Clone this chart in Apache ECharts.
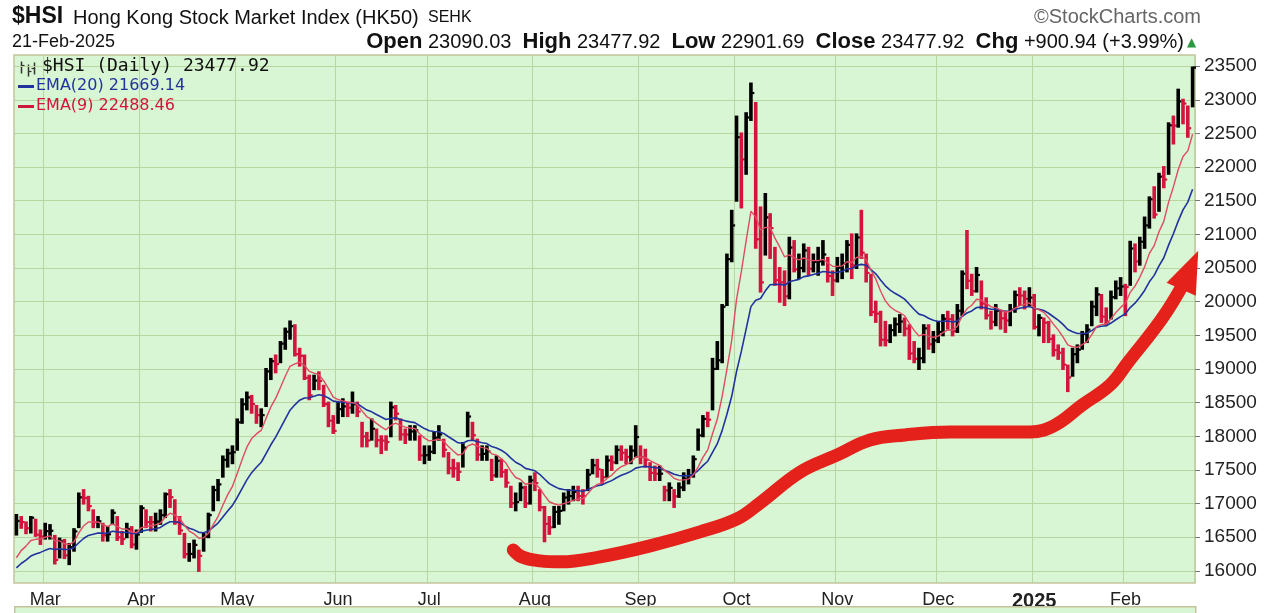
<!DOCTYPE html>
<html><head><meta charset="utf-8">
<script src="https://cdn.jsdelivr.net/npm/echarts@6/dist/echarts.min.js"></script>
<style>html,body{margin:0;padding:0;background:#fff}#c{width:1282px;height:613px}</style>
</head><body><div id="c"></div>
<script>
// ---------- DATA ----------
const startDate = '2024-02-22';
const endDate = '2025-02-21';
const holidays = ['2024-03-29','2024-04-01','2024-04-04','2024-05-01','2024-05-15','2024-06-10','2024-07-01',
  '2024-09-18','2024-10-01','2024-10-11','2024-12-25','2024-12-26','2025-01-01','2025-01-29','2025-01-30','2025-01-31'];
const monthNames = ['Jan','Feb','Mar','Apr','May','Jun','Jul','Aug','Sep','Oct','Nov','Dec'];
const yTicks = [16000,16500,17000,17500,18000,18500,19000,19500,20000,20500,21000,21500,22000,22500,23000,23500];

const closes = [
  16742,16726,16634,16790,16537,16511,
  16590,16596,16163,16438,16230,16353,16587,17093,17082,16962,16721,16737,16529,16544,16863,16499,16473,16618,16392,16541,
  16931,16725,16724,16733,16828,17139,17095,16722,16601,16249,16252,16386,16224,16512,16829,17201,17285,17651,17747,17763,
  18207,18476,18578,18479,18314,18314,18964,19115,19073,19376,19553,19636,19221,19195,18868,18609,18828,18822,18478,18231,18080,
  18403,18444,18425,18476,18367,17997,17937,18112,17942,17936,17915,18430,18335,18028,18027,18072,18089,17716,17719,
  17769,17979,18028,17800,17525,17523,17472,17832,18293,18016,17727,17739,17778,17418,17636,17470,17311,17005,17022,17238,17003,17345,
  17304,16945,16698,16647,16877,16891,17090,17112,17175,17113,17110,17430,17569,17511,17391,17641,17612,17798,17755,17692,17787,17989,
  17691,17651,17457,17444,17444,17196,17234,17108,17240,17369,17422,17660,18013,18258,18247,19000,19129,19925,20632,21133,
  22444,22114,22737,23100,20927,20287,21252,21093,20319,20287,20080,20804,20479,20499,20761,20489,20590,20600,20701,20381,20317,
  20506,20568,20845,20538,20954,20728,20427,19846,19823,19435,19426,19577,19664,19705,19601,19230,19151,19159,19603,19367,19424,
  19550,19746,19742,19560,19865,20415,20311,20155,20397,19971,19796,19700,19865,19753,19720,19883,20098,20090,20042,20060,
  19623,19760,19688,19447,19280,19241,19064,18874,19219,19286,19522,19584,19926,20107,19778,19701,20066,20198,20225,
  20217,20790,20597,20891,21133,21522,21295,21858,21815,22620,22616,22976,22944,22577,23478
];
const highs = [
  16830,16800,16720,16800,16760,16600,
  16700,16680,16520,16480,16460,16400,16620,17150,17200,17100,16900,16800,16700,16650,16900,16800,16580,16700,16650,16600,
  16960,16900,16800,16850,16900,17150,17200,17050,16800,16550,16400,16450,16300,16550,16850,17250,17350,17700,17800,17850,
  18250,18550,18650,18600,18450,18400,19000,19150,19200,19400,19600,19706,19650,19300,19200,18900,18900,18950,18750,18500,18300,
  18500,18550,18500,18650,18500,18200,18050,18250,18100,18000,18000,18500,18450,18250,18100,18150,18150,18000,17850,
  17850,18050,18150,17950,17750,17650,17600,17900,18350,18200,17950,17850,17850,17650,17700,17650,17500,17250,17150,17300,17250,17400,
  17450,17200,16950,16800,16950,16950,17150,17200,17250,17250,17200,17500,17650,17650,17500,17700,17700,17850,17850,17800,17850,18150,
  17850,17800,17600,17550,17550,17250,17300,17200,17300,17450,17500,17700,18100,18300,18350,19150,19400,19950,20700,21350,
  22750,22500,22800,23241,22950,21400,21600,21300,20800,20500,20450,20950,20900,20700,20850,20800,20700,20800,20900,20650,20450,
  20650,20700,20900,21000,21000,21350,20700,20400,20000,19850,19700,19650,19750,19800,19750,19650,19400,19300,19650,19650,19550,
  19700,19800,19850,19800,19950,20450,21050,20400,20500,20300,20050,19850,19950,19850,19850,19950,20150,20200,20150,20200,
  20100,19800,19750,19700,19500,19350,19300,19050,19300,19350,19550,19650,20000,20200,20100,19900,20150,20300,20350,
  20250,20890,20850,20950,21250,21550,21700,21900,22000,22650,22750,23150,23000,22900,23478
];
const lows = [
  16540,16640,16560,16570,16520,16400,
  16480,16480,16110,16200,16190,16100,16300,16650,17000,16900,16650,16650,16450,16450,16700,16460,16400,16500,16350,16330,
  16580,16650,16600,16600,16700,16800,16950,16700,16550,16200,16150,16200,16000,16300,16500,16900,17050,17400,17550,17600,
  17800,18200,18400,18350,18200,18150,18450,18850,18950,19100,19300,19450,19200,19050,18850,18550,18700,18700,18450,18150,18050,
  18200,18300,18300,18350,18300,17850,17850,17950,17850,17750,17800,18000,18250,17950,17900,17950,17950,17650,17600,
  17650,17750,17950,17700,17450,17400,17350,17550,18000,17950,17650,17650,17650,17350,17400,17400,17250,16950,16900,17050,16950,17000,
  17200,16900,16440,16550,16650,16700,16900,17000,17050,17050,17000,17200,17450,17400,17300,17400,17500,17600,17650,17600,17600,17700,
  17600,17550,17350,17350,17350,17050,17050,16950,17100,17200,17300,17400,17800,18000,18150,18400,19000,19100,19950,20600,
  21500,21400,21900,22700,20800,20150,20700,20650,20250,20000,19950,20050,20450,20350,20450,20400,20450,20400,20550,20300,20100,
  20300,20350,20450,20350,20500,20650,20300,19800,19700,19350,19350,19400,19500,19550,19500,19150,19100,19000,19100,19300,19250,
  19400,19500,19600,19500,19550,19800,20200,20100,20150,19900,19750,19600,19650,19600,19550,19650,19850,19950,19900,19950,
  19600,19500,19400,19400,19200,19150,19000,18671,18900,19100,19300,19400,19650,19800,19700,19650,19750,20050,20100,
  19800,20250,20450,20550,20800,21100,21250,21350,21700,21900,22350,22600,22650,22450,22902
];
// EMA values at the first visible bar
const ema20Seed = 16045;
const ema9Seed = 16195;
// hand-drawn red arrow: [bar index, price]
const arrowPath = [[103.5,16312],[105.3,16208],[109.1,16149],[113.3,16134],[121.6,16208],[132,16371],[142.4,16579],
  [150.1,16772],[154.9,17010],[163.3,17470],[171,17723],[177.8,17946],[185.1,18020],[194.5,18064],[211.2,18064],
  [216.4,18168],[222,18465],[227.8,18762],[231.6,19104],[238.7,19758],[243.2,20280]];
const arrowHead = [[244.4,20470]];

// ---------- BUILD ----------
const dates = [];
{
  let t = Date.parse(startDate + 'T00:00:00Z');
  const end = Date.parse(endDate + 'T00:00:00Z');
  while (t <= end) {
    const d = new Date(t);
    const wd = d.getUTCDay();
    const s = d.toISOString().slice(0, 10);
    if (wd !== 0 && wd !== 6 && holidays.indexOf(s) < 0) dates.push(s);
    t += 86400000;
  }
}
function ema(seed, n) {
  const k = 2 / (n + 1), out = [seed];
  for (let i = 1; i < closes.length; i++) out.push(out[i - 1] + k * (closes[i] - out[i - 1]));
  return out.map(v => Math.round(v * 100) / 100);
}
const ema20 = ema(ema20Seed, 20);
const ema9 = ema(ema9Seed, 9);
const isMonthStart = i => i > 0 && dates[i].slice(5, 7) !== dates[i - 1].slice(5, 7);
const bars = closes.map((c, i) => [i, highs[i], lows[i], c]);

const GRID = '#b9d6a0';
const RED = '#d3143f';
const ARROW = '#e5211b';
const chart = echarts.init(document.getElementById('c'), null, {renderer: 'canvas'});
chart.setOption({
  animation: false,
  backgroundColor: '#ffffff',
  grid: {left: 14, right: 87, top: 55, bottom: 30, show: true, backgroundColor: '#d8f6d3', borderColor: '#c4c49c', borderWidth: 1.5},
  xAxis: [{
    type: 'category', data: dates, boundaryGap: true,
    axisLine: {show: false}, axisTick: {show: false},
    axisLabel: {
      interval: (i) => isMonthStart(i), margin: 8, color: '#222', fontSize: 18, fontFamily: 'Liberation Sans',
      formatter: (v) => { const m = +v.slice(5, 7); return m === 1 ? '{y|' + v.slice(0, 4) + '}' : monthNames[m - 1]; },
      rich: {y: {fontWeight: 'bold', fontSize: 20, fontFamily: 'Liberation Sans', color: '#222'}}
    },
    splitLine: {show: true, interval: (i) => isMonthStart(i), lineStyle: {color: GRID, width: 1}}
  }, {
    type: 'value', min: -0.5, max: closes.length - 0.5, show: false
  }],
  yAxis: {
    type: 'value', position: 'right', min: 15820, max: 23665, scale: true,
    axisLine: {show: false, onZero: false},
    axisTick: {show: true, length: 5, customValues: yTicks, lineStyle: {color: '#777'}},
    axisLabel: {customValues: yTicks, margin: 9, color: '#222', fontSize: 19, fontFamily: 'Liberation Sans',
      formatter: (v) => String(v)},
    splitLine: {show: true, lineStyle: {color: GRID, width: 1}}
  },
  series: [{
    type: 'custom', data: bars, encode: {x: 0, y: [1, 2, 3]}, z: 2,
    renderItem: function (params, api) {
      const i = api.value(0);
      const h = api.coord([i, api.value(1)]);
      const l = api.coord([i, api.value(2)]);
      const c = api.coord([i, api.value(3)]);
      const col = (i === 0 || closes[i] >= closes[i - 1]) ? '#000000' : RED;
      return {type: 'group', children: [
        {type: 'line', shape: {x1: h[0], y1: h[1] - 1, x2: l[0], y2: l[1] + 1}, style: {stroke: col, lineWidth: 3.6}},
        {type: 'line', shape: {x1: c[0], y1: c[1], x2: c[0] + 3.4, y2: c[1]}, style: {stroke: col, lineWidth: 2.2}}
      ]};
    }
  }, {
    type: 'line', data: ema20, showSymbol: false, symbol: 'none', z: 3,
    lineStyle: {color: '#22329e', width: 1.6}
  }, {
    type: 'line', data: ema9, showSymbol: false, symbol: 'none', z: 3,
    lineStyle: {color: '#e04a62', width: 1.4}
  }, {
    type: 'line', xAxisIndex: 1, data: arrowPath, smooth: 0.4, showSymbol: false, symbol: 'none', z: 5,
    lineStyle: {color: ARROW, width: 13, cap: 'round', join: 'round'}
  }, {
    type: 'scatter', xAxisIndex: 1, data: arrowHead, symbol: 'triangle', symbolSize: [32, 42], symbolRotate: -24,
    itemStyle: {color: ARROW, opacity: 1}, z: 5, clip: false
  }],
  graphic: [
    {type: 'text', left: 12, top: 5, style: {text: '$HSI', font: 'bold 23px "Liberation Sans"', fill: '#111'}},
    {type: 'text', left: 73, top: 8, style: {text: 'Hong Kong Stock Market Index (HK50)', font: '20px "Liberation Sans"', fill: '#111'}},
    {type: 'text', left: 428, top: 10, style: {text: 'SEHK', font: '16px "Liberation Sans"', fill: '#111'}},
    {type: 'text', left: 1034, top: 7, style: {text: '\u00A9StockCharts.com', font: '20px "Liberation Sans"', fill: '#666'}},
    {type: 'text', left: 12, top: 33, style: {text: '21-Feb-2025', font: '18px "Liberation Sans"', fill: '#111'}},
    {type: 'text', right: 98, top: 31, style: {
      text: '{b|Open} {n|23090.03}  {b|High} {n|23477.92}  {b|Low} {n|22901.69}  {b|Close} {n|23477.92}  {b|Chg} {n|+900.94 (+3.99%)}',
      font: '20px "Liberation Sans"', fill: '#111',
      rich: {b: {fontWeight: 'bold', fontSize: 22, fontFamily: 'Liberation Sans', fill: '#111'},
             n: {fontSize: 20, fontFamily: 'Liberation Sans', fill: '#111'}}
    }},
    {type: 'text', left: 1187, top: 37, style: {text: '\u25B2', font: '12px "DejaVu Sans"', fill: '#2a9a3e'}},
    {type: 'text', left: 42, top: 57, style: {text: '$HSI (Daily) 23477.92', font: '18px "DejaVu Sans Mono"', fill: '#111'}, z: 10},
    {type: 'group', left: 19, top: 59, z: 10, children: [
      {type: 'line', shape: {x1: 2, y1: 0, x2: 2, y2: 12}, style: {stroke: '#333', lineWidth: 1.5}},
      {type: 'line', shape: {x1: 2, y1: 4, x2: 5, y2: 4}, style: {stroke: '#333', lineWidth: 1.2}},
      {type: 'line', shape: {x1: 9, y1: 3, x2: 9, y2: 15}, style: {stroke: '#333', lineWidth: 1.5}},
      {type: 'line', shape: {x1: 9, y1: 10, x2: 12, y2: 10}, style: {stroke: '#333', lineWidth: 1.2}},
      {type: 'line', shape: {x1: 15, y1: 1, x2: 15, y2: 13}, style: {stroke: '#333', lineWidth: 1.5}},
      {type: 'line', shape: {x1: 12, y1: 7, x2: 15, y2: 7}, style: {stroke: '#333', lineWidth: 1.2}}
    ]},
    {type: 'rect', left: 18, top: 85, z: 10, shape: {width: 16, height: 3}, style: {fill: '#22329e'}},
    {type: 'text', left: 36, top: 78, z: 10, style: {text: 'EMA(20) 21669.14', font: '16px "DejaVu Sans"', fill: '#22329e'}},
    {type: 'rect', left: 18, top: 105, z: 10, shape: {width: 16, height: 3}, style: {fill: '#d3143f'}},
    {type: 'text', left: 36, top: 98, z: 10, style: {text: 'EMA(9) 22488.46', font: '16px "DejaVu Sans"', fill: '#d3143f'}},
    {type: 'rect', left: 14, top: 606, z: 1, shape: {width: 1181, height: 12}, style: {fill: '#d8f6d3', stroke: '#c4c49c', lineWidth: 1.5}}
  ]
});
</script></body></html>
